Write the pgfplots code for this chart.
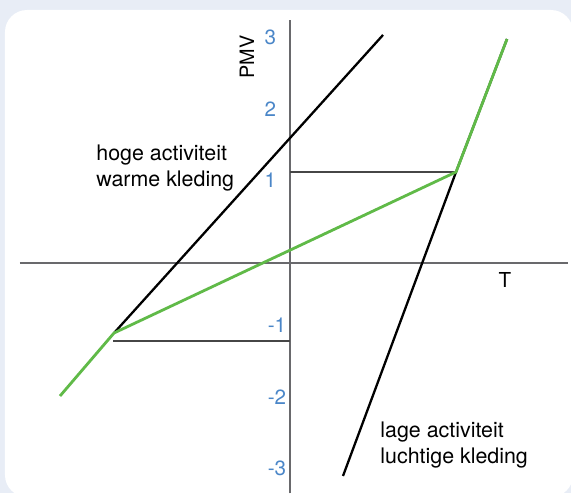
\documentclass[border=0pt]{standalone}
\usepackage{pgfplots}
\pgfplotsset{compat=1.18}
\usepackage{fontspec}
\setmainfont{TeX Gyre Heros}
\definecolor{panelbg}{RGB}{232,237,246}
\definecolor{ticklab}{RGB}{74,134,200}
\definecolor{pmvgreen}{RGB}{96,186,72}
\definecolor{axisgray}{RGB}{105,105,108}
\definecolor{refgray}{RGB}{70,70,70}
\begin{document}
\begin{tikzpicture}
% panel background (1 px = 0.5 pt, origin at the axes crossing)
\useasboundingbox (-145pt,-115pt) rectangle (140.5pt,131.5pt);
\fill[panelbg] (-145pt,-115pt) rectangle (140.5pt,131.5pt);
\fill[white, rounded corners=11pt] (-142.5pt,-117pt) rectangle (141.5pt,126.5pt);
\begin{axis}[
    at={(0,0)}, anchor=origin,
    x=36pt, y=36pt,
    axis lines=middle,
    axis line style={-, draw=axisgray, line width=1pt},
    xmin=-3.75, xmax=3.86, ymin=-3.2, ymax=3.375,
    xtick=\empty,
    ytick={-2.847,-1.861,-0.861,1.153,2.139,3.139},
    yticklabels={-3,-2,-1,{1\kern5pt},{2\kern5pt},{3\kern5pt}},
    major tick length=0pt,
    yticklabel style={font=\fontsize{10.3}{12}\selectfont, text=ticklab, xshift=1.6pt},
    clip=false,
]
% hoge activiteit, warme kleding
\addplot[black, line width=1.15pt] coordinates {(-2.444,-0.972)(1.292,3.167)};
% lage activiteit, luchtige kleding
\addplot[black, line width=1.15pt] coordinates {(0.736,-2.958)(2.306,1.264)(3.014,3.111)};
% reference levels
\addplot[refgray, line width=0.7pt] coordinates {(0,1.264)(2.306,1.264)};
\addplot[refgray, line width=0.7pt] coordinates {(-2.458,-1.083)(0,-1.083)};
% resulting PMV
\addplot[pmvgreen, line width=1.4pt] coordinates {(-3.194,-1.847)(-2.444,-0.972)(2.306,1.264)(3.014,3.111)};
\node[rotate=90, font=\fontsize{9.9}{11}\selectfont] at (axis cs:-0.597,2.861) {PMV};
\node[font=\fontsize{10.3}{12}\selectfont] at (axis cs:2.986,-0.236) {T};
\node[anchor=west, align=left, inner sep=0pt, font=\fontsize{10.7}{13}\selectfont]
    at (axis cs:-2.694,1.319) {hoge activiteit\\warme kleding};
\node[anchor=west, align=left, inner sep=0pt, font=\fontsize{10.7}{13}\selectfont]
    at (axis cs:1.25,-2.528) {lage activiteit\\luchtige kleding};
\end{axis}
\end{tikzpicture}
\end{document}
